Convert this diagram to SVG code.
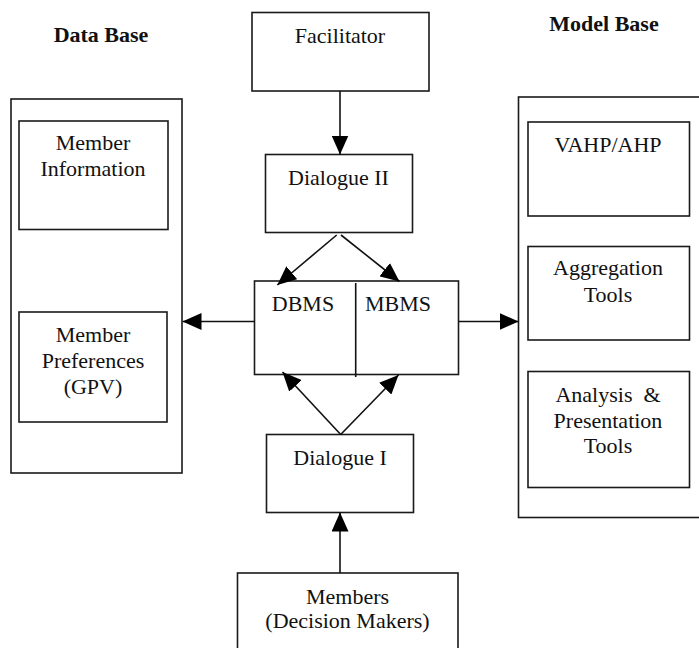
<svg xmlns="http://www.w3.org/2000/svg" width="699" height="648" viewBox="0 0 699 648">
  <style>
    .box { fill: #ffffff; stroke: #1a1a1a; stroke-width: 1.6; }
    .lbl { font-family: "Liberation Serif", "Times New Roman", serif; font-size: 22px; fill: #111111; text-anchor: middle; }
    .ttl { font-family: "Liberation Serif", "Times New Roman", serif; font-size: 22px; font-weight: bold; fill: #111111; text-anchor: middle; }
    .edge { fill: none; stroke: #111111; stroke-width: 1.6; }
  </style>
  <defs>
    <marker id="arrow" markerUnits="userSpaceOnUse" markerWidth="19" markerHeight="17" refX="19" refY="8.5" orient="auto">
      <path d="M0,0 L19,8.5 L0,17 Z" fill="#000000"/>
    </marker>
  </defs>
  <rect width="699" height="648" fill="#ffffff"/>

  <!-- Data Base -->
  <g id="data-base">
    <text class="ttl" x="101" y="42">Data Base</text>
    <rect class="box" x="11" y="99" width="171" height="374"/>
  </g>
  <g id="member-information">
    <rect class="box" x="19" y="121" width="149" height="108.5"/>
    <text class="lbl" x="93" y="150">Member</text>
    <text class="lbl" x="93" y="176">Information</text>
  </g>
  <g id="member-preferences">
    <rect class="box" x="19" y="312" width="148" height="110"/>
    <text class="lbl" x="93" y="342">Member</text>
    <text class="lbl" x="93" y="368">Preferences</text>
    <text class="lbl" x="93" y="394">(GPV)</text>
  </g>

  <!-- Model Base -->
  <g id="model-base">
    <text class="ttl" x="604" y="31">Model Base</text>
    <rect class="box" x="518.5" y="97" width="185" height="420.5"/>
  </g>
  <g id="vahp-ahp">
    <rect class="box" x="528" y="122" width="161.5" height="94"/>
    <text class="lbl" x="608" y="152">VAHP/AHP</text>
  </g>
  <g id="aggregation-tools">
    <rect class="box" x="528" y="246.5" width="161.5" height="93.5"/>
    <text class="lbl" x="608" y="275">Aggregation</text>
    <text class="lbl" x="608" y="302">Tools</text>
  </g>
  <g id="analysis-tools">
    <rect class="box" x="528" y="371.5" width="161.5" height="116"/>
    <text class="lbl" x="608" y="402" xml:space="preserve">Analysis  &amp;</text>
    <text class="lbl" x="608" y="428">Presentation</text>
    <text class="lbl" x="608" y="453">Tools</text>
  </g>

  <!-- Centre column -->
  <g id="facilitator">
    <rect class="box" x="252" y="12.5" width="177" height="78.5"/>
    <text class="lbl" x="340" y="43">Facilitator</text>
  </g>
  <g id="dialogue-2">
    <rect class="box" x="265.5" y="154.5" width="147" height="78"/>
    <text class="lbl" x="338.5" y="185">Dialogue II</text>
  </g>
  <g id="dbms-mbms">
    <rect class="box" x="254.5" y="281" width="204" height="93.5"/>
    <line class="edge" x1="355.7" y1="283" x2="355.7" y2="377"/>
    <text class="lbl" x="303" y="311">DBMS</text>
    <text class="lbl" x="398" y="311">MBMS</text>
  </g>
  <g id="dialogue-1">
    <rect class="box" x="266.5" y="434.5" width="147" height="78"/>
    <text class="lbl" x="340" y="465">Dialogue I</text>
  </g>
  <g id="members">
    <rect class="box" x="237.5" y="573" width="220.5" height="80"/>
    <text class="lbl" x="347.5" y="604">Members</text>
    <text class="lbl" x="347.5" y="628">(Decision Makers)</text>
  </g>

  <!-- Connectors -->
  <g id="connectors">
    <line class="edge" x1="340" y1="91" x2="340" y2="154.5" marker-end="url(#arrow)"/>
    <line class="edge" x1="336.7" y1="235" x2="277.3" y2="285" marker-end="url(#arrow)"/>
    <line class="edge" x1="341" y1="235" x2="399.5" y2="281.5" marker-end="url(#arrow)"/>
    <line class="edge" x1="254.5" y1="321.5" x2="182.5" y2="321.5" marker-end="url(#arrow)"/>
    <line class="edge" x1="458.5" y1="321.5" x2="518.5" y2="321.5" marker-end="url(#arrow)"/>
    <line class="edge" x1="340.7" y1="434.5" x2="282.5" y2="372" marker-end="url(#arrow)"/>
    <line class="edge" x1="340.7" y1="434.5" x2="398.5" y2="375" marker-end="url(#arrow)"/>
    <line class="edge" x1="340" y1="573" x2="340" y2="512.5" marker-end="url(#arrow)"/>
  </g>
</svg>
